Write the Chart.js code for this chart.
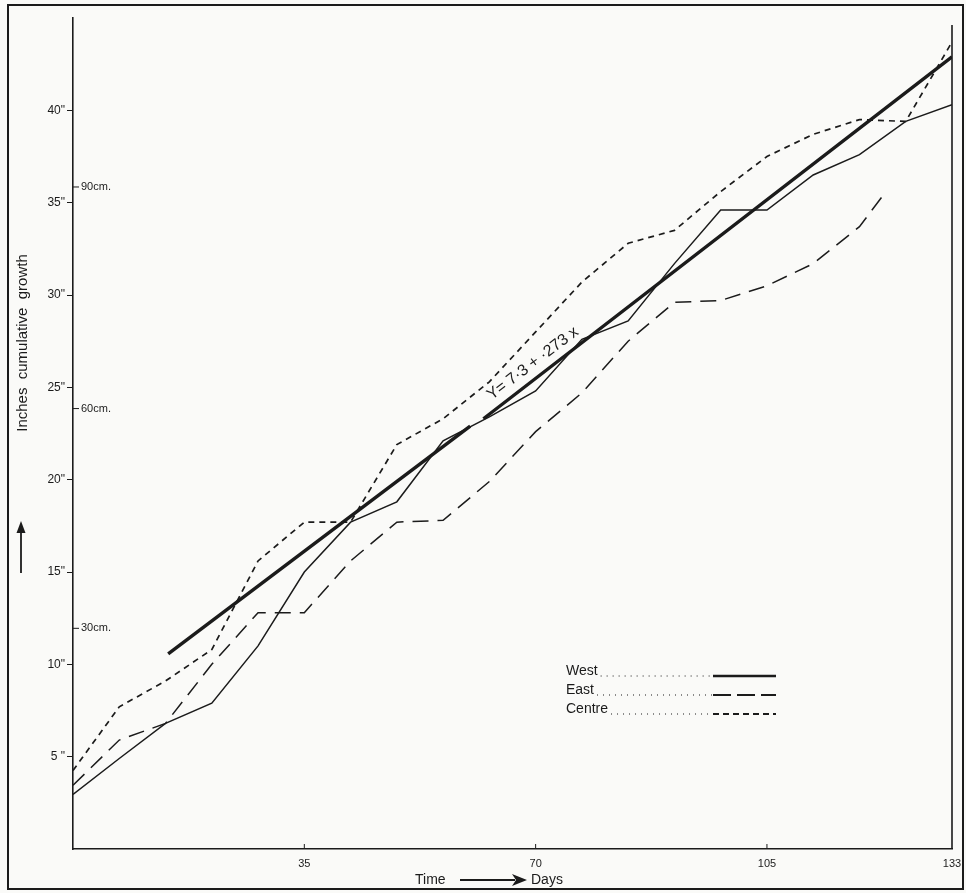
<!DOCTYPE html>
<html>
<head>
<meta charset="utf-8">
<script src="https://cdn.jsdelivr.net/npm/chart.js@4.4.1/dist/chart.umd.min.js"></script>
<style>
html,body{margin:0;padding:0;background:#fafaf8;}
#wrap{width:966px;height:893px;}
</style>
</head>
<body>
<div id="wrap"><canvas id="growthChart" width="966" height="893"></canvas></div>
<script>
var days = [0,7,14,21,28,35,42,49,56,63,70,77,84,91,98,105,112,119,126,133];
var west = [2.95,4.9,6.8,7.9,11.0,15.0,17.7,18.8,22.1,23.4,24.8,27.6,28.6,31.7,34.6,34.6,36.5,37.6,39.4,40.3];
var eastDays = [0,7,14,21,28,35,42,49,56,63,70,77,84,91,98,105,112,119,123];
var east = [3.45,5.9,6.8,10.0,12.8,12.8,15.6,17.7,17.8,19.9,22.6,24.7,27.5,29.6,29.7,30.5,31.7,33.7,35.6];
var centre = [4.25,7.7,9.1,10.8,15.6,17.7,17.7,21.9,23.3,25.3,28.0,30.7,32.8,33.5,35.6,37.5,38.7,39.5,39.4,43.7];
// fitted line, broken where the equation is written
var fitDays = [14.4,60.1,61,62.1,133];
var fitVals = [10.57,22.9,null,23.3,42.9];
var xTicks = [35,70,105,133];
var yTicks = [5,10,15,20,25,30,35,40];
var cmLabels = ['30cm.','60cm.','90cm.'];
var cmAt = [11.95,23.85,35.85]; // where the cm marks sit on the inch scale
var seriesNames = ['West','East','Centre'];

var ink = '#1b1b1b';
var font = '"Liberation Sans", "DejaVu Sans", sans-serif';

function pts(xs, ys){
	var out = [];
	for(var i=0;i<xs.length;i++){
		out.push({x:xs[i], y:ys[i]});
	}
	return out;
}

var extras = {
	id:'extras',
	beforeDraw:function(chart){
		var c = chart.ctx;
		c.save();
		c.fillStyle = '#fafaf8';
		c.fillRect(0,0,chart.width,chart.height);
		c.strokeStyle = ink;
		c.lineWidth = 2;
		c.strokeRect(8,5,955,884);
		c.restore();
	},
	afterDraw:function(chart){
		var c = chart.ctx;
		var xs = chart.scales.x, ys = chart.scales.y;
		var a = chart.chartArea;
		c.save();
		c.strokeStyle = ink;
		c.fillStyle = ink;
		// right hand border
		c.lineWidth = 1.6;
		c.beginPath();
		c.moveTo(a.right, a.top+7);
		c.lineTo(a.right, a.bottom);
		c.stroke();
		// small day marks inside the x axis
		c.lineWidth = 1;
		for(var i=0;i<xTicks.length-1;i++){
			var px = xs.getPixelForValue(xTicks[i]);
			c.beginPath();
			c.moveTo(px, a.bottom);
			c.lineTo(px, a.bottom-5);
			c.stroke();
		}
		// cm marks on the inside of the y axis
		c.font = '11px ' + font;
		c.textBaseline = 'middle';
		c.textAlign = 'left';
		for(var j=0;j<cmAt.length;j++){
			var py = ys.getPixelForValue(cmAt[j]);
			c.beginPath();
			c.moveTo(a.left, py);
			c.lineTo(a.left+6, py);
			c.stroke();
			c.fillText(cmLabels[j], a.left+8, py);
		}
		// axis titles
		c.font = '15px ' + font;
		c.save();
		c.translate(23, 343);
		c.rotate(-Math.PI/2);
		c.textAlign = 'center';
		c.fillText('Inches  cumulative  growth', 0, 0);
		c.restore();
		// up arrow
		c.lineWidth = 1.8;
		c.beginPath();
		c.moveTo(21, 573);
		c.lineTo(21, 530);
		c.stroke();
		c.beginPath();
		c.moveTo(21, 521);
		c.lineTo(16.5, 533);
		c.lineTo(25.5, 533);
		c.closePath();
		c.fill();
		c.font = '14px ' + font;
		c.textAlign = 'left';
		c.fillText('Time', 415, 880);
		c.beginPath();
		c.moveTo(460, 880);
		c.lineTo(515, 880);
		c.stroke();
		c.beginPath();
		c.moveTo(527, 880);
		c.lineTo(512, 874);
		c.lineTo(516, 880);
		c.lineTo(512, 886);
		c.closePath();
		c.fill();
		c.fillText('Days', 531, 880);
		// equation along the fitted line
		var ex = xs.getPixelForValue(70.5), ey = ys.getPixelForValue(10.57+0.2726*(70.5-14.4));
		var ang = Math.atan2(ys.getPixelForValue(42.9)-ys.getPixelForValue(10.57), xs.getPixelForValue(133)-xs.getPixelForValue(14.4));
		c.save();
		c.translate(ex, ey);
		c.rotate(ang);
		c.textAlign = 'center';
		c.textBaseline = 'bottom';
		c.font = '16px ' + font;
		c.fillText('Y= 7\u00b73 + \u00b7273 \u0445', 0, -2);
		c.restore();
		// legend
		var ly = [673,692,711];
		var dashes = [[],[18,6],[6,4]];
		var widths = [2.6,1.8,2.2];
		c.font = '14px ' + font;
		c.textBaseline = 'middle';
		for(var k=0;k<seriesNames.length;k++){
			c.fillText(seriesNames[k], 566, ly[k]-2);
			var tw = c.measureText(seriesNames[k]).width;
			c.setLineDash([1,5]);
			c.lineWidth = 1;
			c.beginPath();
			c.moveTo(566+tw+3, ly[k]+3);
			c.lineTo(712, ly[k]+3);
			c.stroke();
			c.setLineDash(dashes[k]);
			c.lineWidth = widths[k];
			c.beginPath();
			c.moveTo(713, ly[k]+3);
			c.lineTo(776, ly[k]+3);
			c.stroke();
		}
		c.restore();
	}
};

var ctx = document.getElementById('growthChart').getContext('2d');
var chart = new Chart(ctx, {
	type:'line',
	data:{
		datasets:[{
			label:'West',
			data:pts(days, west),
			borderColor:ink,
			borderWidth:1.5
		},{
			label:'East',
			data:pts(eastDays, east),
			borderColor:ink,
			borderWidth:1.5,
			borderDash:[16,9]
		},{
			label:'Centre',
			data:pts(days, centre),
			borderColor:ink,
			borderWidth:1.7,
			borderDash:[6,5]
		},{
			label:'fit',
			data:pts(fitDays, fitVals),
			borderColor:ink,
			borderWidth:3.4,
			spanGaps:false
		}]
	},
	options:{
		responsive:false,
		animation:false,
		events:[],
		elements:{point:{radius:0}, line:{tension:0, fill:false}},
		layout:{padding:{left:0, right:14, top:18, bottom:0}},
		plugins:{legend:{display:false}, tooltip:{enabled:false}},
		scales:{
			x:{
				type:'linear', min:0, max:133,
				afterBuildTicks:function(s){ s.ticks = xTicks.map(function(v){return {value:v};}); },
				afterFit:function(s){ s.height = 44; s.paddingRight = 0; s.paddingLeft = 0; },
				grid:{display:true, drawOnChartArea:false, drawTicks:false},
				border:{display:true, color:ink, width:1.6},
				ticks:{color:ink, padding:8, maxRotation:0, autoSkip:false, font:{size:11, family:font}}
			},
			y:{
				type:'linear', min:0, max:45,
				afterBuildTicks:function(s){ s.ticks = yTicks.map(function(v){return {value:v};}); },
				afterFit:function(s){ s.width = 73; s.paddingTop = 0; s.paddingBottom = 0; },
				grid:{display:true, drawOnChartArea:false, drawTicks:true, tickLength:6, color:ink},
				border:{display:true, color:ink, width:1.6},
				ticks:{color:ink, padding:2, font:{size:12, family:font}, callback:function(v){ return v + (v<10 ? ' "' : '"'); }}
			}
		}
	},
	plugins:[extras]
});
</script>
</body>
</html>
